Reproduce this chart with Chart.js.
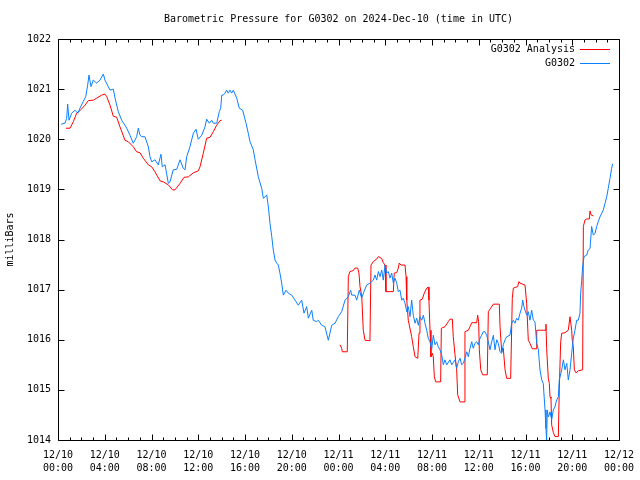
<!DOCTYPE html>
<html>
<head>
<meta charset="utf-8">
<script src="https://cdn.jsdelivr.net/npm/chart.js@4.4.1/dist/chart.umd.min.js"></script>
<style>
  html, body { margin: 0; padding: 0; background: #fff; }
  canvas { display: block; }
</style>
</head>
<body>
<canvas id="chart" width="640" height="480"></canvas>
<script>
'use strict';

var titleText = 'Barometric Pressure for G0302 on 2024-Dec-10 (time in UTC)';
var yTitle = 'milliBars';
var analysisName = 'G0302 Analysis';
var stationName = 'G0302';

// x axis runs in hours since 12/10 00:00
var xDays = ['12/10', '12/10', '12/10', '12/10', '12/10', '12/10', '12/11', '12/11', '12/11', '12/11', '12/11', '12/11', '12/12'];
var xTimes = ['00:00', '04:00', '08:00', '12:00', '16:00', '20:00', '00:00', '04:00', '08:00', '12:00', '16:00', '20:00', '00:00'];

// [hour, mbar]  -- null marks the gap in the analysis
var analysis = [
  [0.68, 1020.22], [1.03, 1020.22], [1.31, 1020.35], [1.60, 1020.52], [1.88, 1020.57], [2.31, 1020.68],
  [2.59, 1020.77], [3.02, 1020.78], [3.31, 1020.82], [3.74, 1020.88], [4.02, 1020.90], [4.17, 1020.85],
  [4.45, 1020.68], [4.73, 1020.46], [5.02, 1020.44], [5.30, 1020.25], [5.73, 1019.98], [6.02, 1019.95],
  [6.44, 1019.85], [6.73, 1019.75], [7.02, 1019.73], [7.30, 1019.62], [7.73, 1019.49], [8.02, 1019.45],
  [8.30, 1019.35], [8.73, 1019.17], [9.01, 1019.15], [9.44, 1019.09], [9.81, 1018.99], [10.01, 1018.99],
  [10.44, 1019.12], [10.78, 1019.24], [11.15, 1019.25], [11.58, 1019.33], [12.00, 1019.37], [12.15, 1019.45],
  [12.43, 1019.72], [12.72, 1020.02], [13.01, 1020.04], [13.29, 1020.15], [13.58, 1020.28], [13.86, 1020.37],
  [14.01, 1020.38],
  [19.0, null],
  [24.13, 1015.90], [24.27, 1015.83], [24.33, 1015.76], [24.75, 1015.76], [24.84, 1017.26], [24.98, 1017.36],
  [25.27, 1017.38], [25.41, 1017.43], [25.64, 1017.43], [25.75, 1017.33], [25.84, 1017.06], [25.99, 1016.86],
  [26.12, 1016.19], [26.27, 1015.99], [26.69, 1015.98], [26.78, 1017.49], [26.98, 1017.56], [27.27, 1017.61],
  [27.41, 1017.66], [27.70, 1017.62], [27.83, 1017.54], [27.98, 1017.49], [28.06, 1016.96], [28.69, 1016.96],
  [28.77, 1017.33], [28.98, 1017.34], [29.12, 1017.43], [29.20, 1017.53], [29.35, 1017.49], [29.69, 1017.49],
  [29.78, 1017.26], [29.84, 1016.79], [29.97, 1016.39], [30.26, 1016.06], [30.40, 1015.86], [30.55, 1015.66],
  [30.78, 1015.63], [30.89, 1016.13], [30.97, 1016.79], [31.17, 1016.81], [31.34, 1016.93], [31.55, 1017.03],
  [31.68, 1017.05], [31.74, 1016.79], [31.83, 1016.19], [31.91, 1015.66], [32.03, 1015.73], [32.11, 1015.66],
  [32.20, 1015.26], [32.32, 1015.16], [32.74, 1015.16], [32.80, 1016.23], [33.11, 1016.26], [33.39, 1016.36],
  [33.54, 1016.41], [33.74, 1016.41], [33.82, 1016.06], [33.97, 1015.70], [34.11, 1015.40], [34.20, 1014.90],
  [34.40, 1014.76], [34.74, 1014.76], [34.82, 1016.16], [35.11, 1016.19], [35.25, 1016.26], [35.40, 1016.34],
  [35.82, 1016.34], [35.91, 1016.49], [35.99, 1016.36], [36.05, 1015.80], [36.17, 1015.40], [36.34, 1015.30],
  [36.73, 1015.30], [36.82, 1016.56], [37.02, 1016.63], [37.25, 1016.71], [37.76, 1016.71], [37.82, 1016.26],
  [37.96, 1015.76], [38.10, 1015.83], [38.25, 1015.40], [38.39, 1015.23], [38.73, 1015.23], [38.87, 1016.83],
  [38.96, 1017.03], [39.33, 1017.06], [39.44, 1017.16], [39.53, 1017.13], [39.96, 1017.09], [40.10, 1016.73],
  [40.24, 1015.99], [40.38, 1015.93], [40.58, 1015.82], [40.90, 1015.82], [40.96, 1016.19], [41.67, 1016.19],
  [41.75, 1016.31], [41.81, 1015.83], [41.95, 1015.23], [42.04, 1015.13], [42.10, 1014.86], [42.18, 1014.83],
  [42.24, 1014.30], [42.38, 1014.15], [42.52, 1014.07], [42.81, 1014.07], [42.89, 1015.00], [43.01, 1015.96],
  [43.10, 1016.13], [43.38, 1016.14], [43.66, 1016.19], [43.81, 1016.46], [43.95, 1016.19], [44.00, 1015.99],
  [44.09, 1015.86], [44.18, 1015.40], [44.32, 1015.34], [44.52, 1015.38], [44.89, 1015.40], [44.95, 1018.26],
  [45.09, 1018.39], [45.24, 1018.41], [45.46, 1018.41], [45.52, 1018.57], [45.61, 1018.49], [45.80, 1018.47]
];

var station = [
  [0.26, 1020.30], [0.60, 1020.32], [0.74, 1020.42], [0.83, 1020.70], [0.94, 1020.38], [1.17, 1020.52],
  [1.45, 1020.58], [1.69, 1020.52], [1.88, 1020.62], [2.16, 1020.75], [2.37, 1020.85], [2.54, 1021.08],
  [2.65, 1021.28], [2.82, 1021.05], [3.02, 1021.18], [3.31, 1021.12], [3.59, 1021.18], [3.88, 1021.30],
  [4.02, 1021.18], [4.45, 1020.98], [4.73, 1021.00], [4.88, 1020.82], [5.16, 1020.55], [5.45, 1020.38],
  [5.73, 1020.28], [5.88, 1020.22], [6.16, 1020.08], [6.44, 1019.92], [6.73, 1020.05], [6.87, 1020.22],
  [7.02, 1020.08], [7.16, 1020.05], [7.44, 1020.05], [7.73, 1019.85], [7.87, 1019.65], [8.02, 1019.55],
  [8.30, 1019.59], [8.58, 1019.49], [8.81, 1019.70], [8.92, 1019.45], [9.16, 1019.49], [9.44, 1019.12],
  [9.58, 1019.15], [9.86, 1019.39], [10.16, 1019.40], [10.44, 1019.59], [10.72, 1019.42], [10.87, 1019.39],
  [11.01, 1019.65], [11.29, 1019.85], [11.58, 1020.12], [11.81, 1020.20], [12.00, 1020.00], [12.30, 1020.08],
  [12.58, 1020.25], [12.72, 1020.40], [12.95, 1020.32], [13.15, 1020.38], [13.29, 1020.32], [13.58, 1020.32],
  [13.80, 1020.55], [13.92, 1020.62], [14.01, 1020.88], [14.14, 1020.88], [14.29, 1020.92], [14.43, 1020.98],
  [14.57, 1020.92], [14.72, 1020.98], [14.86, 1020.92], [15.00, 1020.98], [15.29, 1020.82], [15.51, 1020.62],
  [15.80, 1020.58], [16.09, 1020.32], [16.28, 1020.12], [16.43, 1019.95], [16.71, 1019.79], [16.86, 1019.59],
  [17.14, 1019.25], [17.43, 1019.02], [17.57, 1018.82], [17.71, 1018.85], [17.86, 1018.89], [18.00, 1018.65],
  [18.14, 1018.32], [18.29, 1018.06], [18.42, 1017.79], [18.57, 1017.59], [18.71, 1017.53], [18.85, 1017.49],
  [18.99, 1017.33], [19.14, 1017.13], [19.28, 1016.89], [19.51, 1016.99], [19.70, 1016.93], [20.00, 1016.89],
  [20.28, 1016.79], [20.56, 1016.69], [20.85, 1016.79], [21.05, 1016.53], [21.28, 1016.66], [21.42, 1016.43],
  [21.71, 1016.59], [21.84, 1016.39], [22.14, 1016.36], [22.27, 1016.39], [22.56, 1016.29], [22.84, 1016.26],
  [23.13, 1015.99], [23.42, 1016.29], [23.70, 1016.33], [23.98, 1016.46], [24.27, 1016.56], [24.56, 1016.79],
  [24.84, 1016.86], [25.04, 1016.99], [25.13, 1016.89], [25.41, 1016.89], [25.56, 1016.79], [25.78, 1016.99],
  [25.98, 1016.83], [26.18, 1016.96], [26.41, 1017.09], [26.70, 1017.13], [26.98, 1017.19], [27.12, 1017.29],
  [27.27, 1017.19], [27.41, 1017.36], [27.55, 1017.26], [27.70, 1017.39], [27.83, 1017.19], [27.98, 1017.49],
  [28.12, 1017.33], [28.26, 1017.36], [28.41, 1017.23], [28.55, 1017.33], [28.69, 1017.13], [28.83, 1017.23],
  [28.98, 1017.13], [29.12, 1016.96], [29.26, 1016.99], [29.41, 1016.79], [29.54, 1016.83], [29.69, 1016.73],
  [29.84, 1016.56], [29.97, 1016.66], [30.12, 1016.46], [30.26, 1016.79], [30.40, 1016.49], [30.55, 1016.33],
  [30.69, 1016.43], [30.83, 1016.29], [30.97, 1016.46], [31.12, 1016.39], [31.26, 1016.49], [31.40, 1016.33],
  [31.55, 1016.19], [31.68, 1016.03], [31.83, 1015.96], [31.97, 1015.80], [32.11, 1016.09], [32.26, 1015.90],
  [32.40, 1015.96], [32.54, 1015.86], [32.68, 1015.80], [32.83, 1015.70], [32.97, 1015.50], [33.11, 1015.60],
  [33.26, 1015.50], [33.54, 1015.60], [33.69, 1015.50], [33.97, 1015.60], [34.11, 1015.43], [34.25, 1015.56],
  [34.40, 1015.63], [34.54, 1015.50], [34.68, 1015.53], [34.82, 1015.63], [34.97, 1015.76], [35.11, 1015.66],
  [35.25, 1015.83], [35.40, 1015.96], [35.53, 1015.83], [35.68, 1015.93], [35.82, 1015.96], [35.96, 1015.90],
  [36.11, 1016.03], [36.25, 1016.09], [36.39, 1016.16], [36.53, 1016.16], [36.68, 1016.09], [36.82, 1015.96],
  [36.96, 1015.80], [37.11, 1015.96], [37.25, 1016.09], [37.39, 1015.80], [37.54, 1016.00], [37.67, 1015.93],
  [37.82, 1015.76], [37.96, 1015.73], [38.10, 1015.90], [38.25, 1016.00], [38.39, 1016.06], [38.67, 1016.09],
  [38.82, 1016.33], [38.96, 1016.39], [39.10, 1016.33], [39.24, 1016.43], [39.38, 1016.39], [39.53, 1016.53],
  [39.67, 1016.63], [39.76, 1016.79], [39.87, 1016.66], [39.96, 1016.59], [40.10, 1016.49], [40.24, 1016.56],
  [40.38, 1016.39], [40.53, 1016.59], [40.67, 1016.39], [40.81, 1016.36], [40.96, 1015.93], [41.10, 1015.80],
  [41.24, 1015.40], [41.39, 1015.20], [41.52, 1015.13], [41.67, 1014.60], [41.75, 1014.23], [41.81, 1014.00],
  [41.86, 1014.60], [41.95, 1014.46], [42.10, 1014.56], [42.24, 1014.40], [42.38, 1014.60], [42.52, 1014.66],
  [42.67, 1014.80], [42.81, 1014.86], [42.89, 1015.20], [43.10, 1015.40], [43.24, 1015.60], [43.38, 1015.40],
  [43.53, 1015.53], [43.66, 1015.20], [43.81, 1015.40], [43.95, 1015.73], [44.09, 1016.03], [44.23, 1016.19],
  [44.38, 1016.39], [44.52, 1016.39], [44.66, 1016.53], [44.72, 1016.93], [44.81, 1017.19], [44.89, 1017.46],
  [45.01, 1017.66], [45.24, 1017.69], [45.37, 1017.79], [45.52, 1017.82], [45.66, 1018.26], [45.80, 1018.09],
  [45.95, 1018.12], [46.09, 1018.26], [46.23, 1018.36], [46.37, 1018.45], [46.66, 1018.59], [46.80, 1018.72],
  [46.95, 1018.85], [47.08, 1019.02], [47.23, 1019.22], [47.37, 1019.42], [47.46, 1019.51]
];

var analysisColor = '#ff0000';
var stationColor = '#0a7fff';
var monoFont = '"DejaVu Sans Mono", "Liberation Mono", monospace';

function toPoints(rows) {
  return rows.map(function (r) { return { x: r[0], y: r[1] }; });
}

// gnuplot style box, inward ticks, title, y label and key
var gnuplotFrame = {
  id: 'gnuplotFrame',
  afterDraw: function (chart) {
    var ctx = chart.ctx;
    var a = chart.chartArea;
    var xs = chart.scales.x;
    var ys = chart.scales.y;
    var left = Math.round(a.left) + 0.5;
    var right = Math.round(a.right) + 0.5;
    var top = Math.round(a.top) + 0.5;
    var bottom = Math.round(a.bottom) + 0.5;

    ctx.save();
    ctx.strokeStyle = '#000';
    ctx.lineWidth = 1;
    ctx.beginPath();
    ctx.rect(left, top, right - left, bottom - top);
    for (var h = xs.min; h <= xs.max; h++) {
      var px = Math.round(xs.getPixelForValue(h)) + 0.5;
      var len = h % 4 === 0 ? 6 : 3;
      ctx.moveTo(px, bottom); ctx.lineTo(px, bottom - len);
      ctx.moveTo(px, top); ctx.lineTo(px, top + len);
    }
    for (var v = ys.min; v <= ys.max; v++) {
      var py = Math.round(ys.getPixelForValue(v)) + 0.5;
      ctx.moveTo(left, py); ctx.lineTo(left + 6, py);
      ctx.moveTo(right, py); ctx.lineTo(right - 6, py);
    }
    ctx.stroke();

    ctx.fillStyle = '#000';
    ctx.font = '10px ' + monoFont;
    ctx.textBaseline = 'middle';

    ctx.textAlign = 'center';
    ctx.fillText(titleText, (a.left + a.right) / 2, 19);

    ctx.save();
    ctx.translate(10, (a.top + a.bottom) / 2);
    ctx.rotate(-Math.PI / 2);
    ctx.fillText(yTitle, 0, 0);
    ctx.restore();

    // key
    var keyRows = [[analysisName, analysisColor], [stationName, stationColor]];
    ctx.textAlign = 'right';
    for (var i = 0; i < keyRows.length; i++) {
      var ky = Math.round(a.top) + 10 + i * 14;
      ctx.fillStyle = '#000';
      ctx.fillText(keyRows[i][0], a.right - 44, ky);
      ctx.strokeStyle = keyRows[i][1];
      ctx.beginPath();
      ctx.moveTo(a.right - 39, ky + 0.5);
      ctx.lineTo(a.right - 9, ky + 0.5);
      ctx.stroke();
    }
    ctx.restore();
  }
};

Chart.defaults.font.family = monoFont;
Chart.defaults.font.size = 10;
Chart.defaults.color = '#000';

var ctx = document.getElementById('chart').getContext('2d');
var chart = new Chart(ctx, {
  type: 'line',
  data: {
    datasets: [
      {
        label: stationName,
        data: toPoints(station),
        borderColor: stationColor,
        borderWidth: 1,
        pointRadius: 0,
        tension: 0,
        order: 0
      },
      {
        label: analysisName,
        data: toPoints(analysis),
        borderColor: analysisColor,
        borderWidth: 1,
        pointRadius: 0,
        tension: 0,
        spanGaps: false,
        order: 1
      }
    ]
  },
  options: {
    responsive: false,
    animation: false,
    devicePixelRatio: 1,
    layout: { padding: { top: 39, right: 21, left: 0, bottom: 0 } },
    plugins: {
      legend: { display: false },
      title: { display: false },
      tooltip: { enabled: false }
    },
    scales: {
      x: {
        type: 'linear',
        min: 0,
        max: 48,
        grid: { display: false, drawTicks: false },
        border: { display: false },
        ticks: {
          stepSize: 4,
          autoSkip: false,
          maxRotation: 0,
          padding: 9,
          font: { size: 10, lineHeight: 1.3 },
          callback: function (value, index) {
            return [xDays[index], xTimes[index]];
          }
        },
        afterFit: function (scale) {
          scale.height = 40;
          scale.paddingLeft = 0;
          scale.paddingRight = 0;
        }
      },
      y: {
        min: 1014,
        max: 1022,
        grid: { display: false, drawTicks: false },
        border: { display: false },
        ticks: {
          stepSize: 1,
          padding: 7,
          callback: function (value) { return String(value); }
        },
        afterFit: function (scale) {
          scale.width = 58;
          scale.paddingTop = 0;
          scale.paddingBottom = 0;
        }
      }
    }
  },
  plugins: [gnuplotFrame]
});
</script>
</body>
</html>
